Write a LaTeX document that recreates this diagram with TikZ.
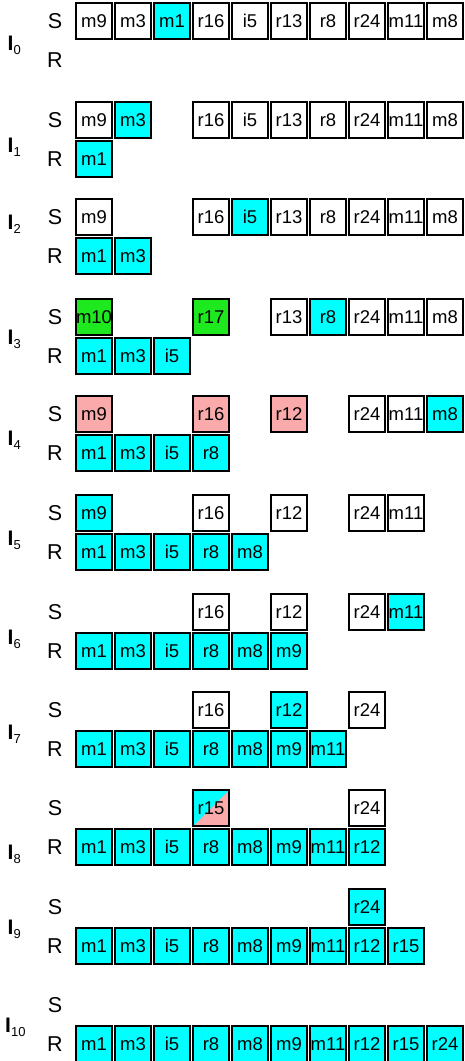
\documentclass[tikz,border=0pt]{standalone}
\usepackage{fontspec}
\setmainfont{Liberation Sans}
\definecolor{cellcyan}{RGB}{0,255,255}
\definecolor{cellgreen}{RGB}{30,232,30}
\definecolor{cellpink}{RGB}{250,170,170}
\tikzset{
  cell/.style={draw=black, line width=2.2pt, minimum width=36.5pt, minimum height=36.5pt,
    inner sep=0pt, font=\fontsize{18.5}{18.5}\selectfont, text height=13.2pt, text depth=0pt},
  cw/.style={fill=white},
  cc/.style={fill=cellcyan},
  cg/.style={fill=cellgreen},
  cp/.style={fill=cellpink},
  ch/.style={fill=cellpink, path picture={\fill[cellcyan] (path picture bounding box.south west) -- (path picture bounding box.north west) -- (path picture bounding box.north east) -- cycle;}},
  lab/.style={inner sep=0pt, font=\fontsize{21.5}{21.5}\selectfont, text height=15.4pt, text depth=0pt},
  ilab/.style={inner sep=0pt, anchor=base west, font=\fontsize{21}{21}\selectfont}
}
\newcommand\cellrow[3]{%
  \foreach \c/\t/\s in {#3} {\node[cell,\s] (#2\c) at ({94+39*\c},#1) {\t};}}
\newcommand\isub[1]{\textbf{I}\raisebox{-4pt}{\fontsize{13}{13}\selectfont #1}}
\begin{document}
\begin{tikzpicture}[x=1pt,y=-1pt]
\useasboundingbox (0,0) rectangle (465,1061);
% labels S / R
\foreach \n/\y in {0/21,1/120,2/217,3/317,4/414,5/513,6/612,7/710,8/808,9/907,10/1005} {
  \node[lab] (S\n) at (55,\y) {S};
  \node[lab] (R\n) at (55,\y+39) {R};
}
% I labels
\foreach \n/\y in {0/43,1/145,2/222,3/337,4/438,5/538,6/637,7/732,8/852,9/927} {
  \node[ilab] (I\n) at (7.5,\y+7.5) {\isub{\n}};
}
\node[ilab] (I10) at (5,1032.5) {\isub{10}};
% I0
\cellrow{21}{aS}{0/m9/cw,1/m3/cw,2/m1/cc,3/r16/cw,4/i5/cw,5/r13/cw,6/r8/cw,7/r24/cw,8/m11/cw,9/m8/cw}
% I1
\cellrow{120}{bS}{0/m9/cw,1/m3/cc,3/r16/cw,4/i5/cw,5/r13/cw,6/r8/cw,7/r24/cw,8/m11/cw,9/m8/cw}
\cellrow{159}{bR}{0/m1/cc}
% I2
\cellrow{217}{cS}{0/m9/cw,3/r16/cw,4/i5/cc,5/r13/cw,6/r8/cw,7/r24/cw,8/m11/cw,9/m8/cw}
\cellrow{256}{cR}{0/m1/cc,1/m3/cc}
% I3
\cellrow{317}{dS}{0/m10/cg,3/r17/cg,5/r13/cw,6/r8/cc,7/r24/cw,8/m11/cw,9/m8/cw}
\cellrow{356}{dR}{0/m1/cc,1/m3/cc,2/i5/cc}
% I4
\cellrow{414}{eS}{0/m9/cp,3/r16/cp,5/r12/cp,7/r24/cw,8/m11/cw,9/m8/cc}
\cellrow{453}{eR}{0/m1/cc,1/m3/cc,2/i5/cc,3/r8/cc}
% I5
\cellrow{513}{fS}{0/m9/cc,3/r16/cw,5/r12/cw,7/r24/cw,8/m11/cw}
\cellrow{552}{fR}{0/m1/cc,1/m3/cc,2/i5/cc,3/r8/cc,4/m8/cc}
% I6
\cellrow{612}{gS}{3/r16/cw,5/r12/cw,7/r24/cw,8/m11/cc}
\cellrow{651}{gR}{0/m1/cc,1/m3/cc,2/i5/cc,3/r8/cc,4/m8/cc,5/m9/cc}
% I7
\cellrow{710}{hS}{3/r16/cw,5/r12/cc,7/r24/cw}
\cellrow{749}{hR}{0/m1/cc,1/m3/cc,2/i5/cc,3/r8/cc,4/m8/cc,5/m9/cc,6/m11/cc}
% I8
\cellrow{808}{iS}{3/r15/ch,7/r24/cw}
\cellrow{847}{iR}{0/m1/cc,1/m3/cc,2/i5/cc,3/r8/cc,4/m8/cc,5/m9/cc,6/m11/cc,7/r12/cc}
% I9
\cellrow{907}{jS}{7/r24/cc}
\cellrow{946}{jR}{0/m1/cc,1/m3/cc,2/i5/cc,3/r8/cc,4/m8/cc,5/m9/cc,6/m11/cc,7/r12/cc,8/r15/cc}
% I10
\cellrow{1044}{kR}{0/m1/cc,1/m3/cc,2/i5/cc,3/r8/cc,4/m8/cc,5/m9/cc,6/m11/cc,7/r12/cc,8/r15/cc,9/r24/cc}
\end{tikzpicture}
\end{document}
